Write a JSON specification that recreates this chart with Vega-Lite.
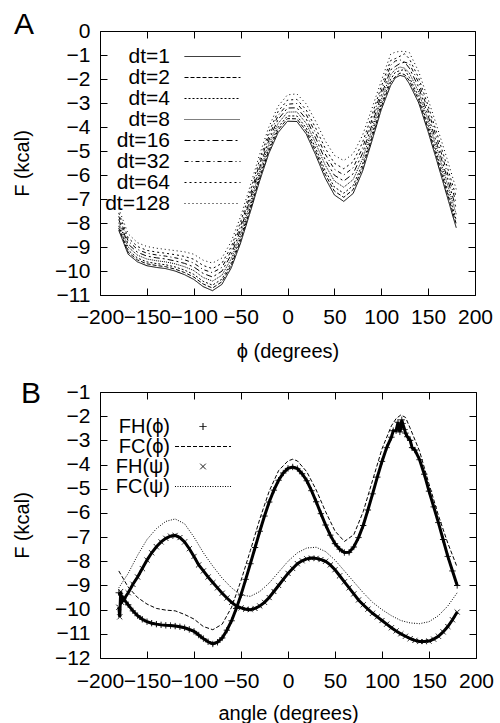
{
"$schema": "https://vega.github.io/schema/vega-lite/v6.json",
"padding": {"left": 11, "top": 9, "right": 10, "bottom": 0},
"spacing": 16,
"resolve": {"scale": {"strokeDash": "independent", "shape": "independent"}, "legend": {"strokeDash": "independent", "shape": "independent"}},
"config": {
  "font": "Liberation Sans",
  "view": {"stroke": "black", "strokeWidth": 1},
  "axis": {"grid": false, "domain": false, "tickColor": "black", "tickSize": -7, "labelFontSize": 21, "titleFontSize": 20, "titleFontWeight": "normal", "labelColor": "black", "titleColor": "black", "labelFlush": false, "labelOverlap": false, "labelPadding": 17, "labelFont": "Liberation Sans", "titleFont": "Liberation Sans"},
  "axisX": {"titlePadding": 14},
  "axisY": {"titlePadding": 22},
  "legend": {"labelFontSize": 21, "labelColor": "black", "labelFont": "Liberation Sans", "labelLimit": 0},
  "title": {"fontSize": 30, "fontWeight": "normal", "color": "black", "font": "Liberation Sans"}
},
"datasets": {
"A": [
{"x":-180,"s":"dt=1","F":-8.30},{"x":-180,"s":"dt=2","F":-8.21},{"x":-180,"s":"dt=4","F":-8.12},{"x":-180,"s":"dt=8","F":-7.99},{"x":-180,"s":"dt=16","F":-7.85},{"x":-180,"s":"dt=32","F":-7.72},{"x":-180,"s":"dt=64","F":-7.58},{"x":-180,"s":"dt=128","F":-7.40},
{"x":-170,"s":"dt=1","F":-9.30},{"x":-170,"s":"dt=2","F":-9.22},{"x":-170,"s":"dt=4","F":-9.13},{"x":-170,"s":"dt=8","F":-9.00},{"x":-170,"s":"dt=16","F":-8.88},{"x":-170,"s":"dt=32","F":-8.75},{"x":-170,"s":"dt=64","F":-8.62},{"x":-170,"s":"dt=128","F":-8.45},
{"x":-160,"s":"dt=1","F":-9.62},{"x":-160,"s":"dt=2","F":-9.54},{"x":-160,"s":"dt=4","F":-9.46},{"x":-160,"s":"dt=8","F":-9.34},{"x":-160,"s":"dt=16","F":-9.22},{"x":-160,"s":"dt=32","F":-9.10},{"x":-160,"s":"dt=64","F":-8.98},{"x":-160,"s":"dt=128","F":-8.82},
{"x":-150,"s":"dt=1","F":-9.78},{"x":-150,"s":"dt=2","F":-9.70},{"x":-150,"s":"dt=4","F":-9.62},{"x":-150,"s":"dt=8","F":-9.50},{"x":-150,"s":"dt=16","F":-9.38},{"x":-150,"s":"dt=32","F":-9.26},{"x":-150,"s":"dt=64","F":-9.14},{"x":-150,"s":"dt=128","F":-8.98},
{"x":-140,"s":"dt=1","F":-9.85},{"x":-140,"s":"dt=2","F":-9.77},{"x":-140,"s":"dt=4","F":-9.69},{"x":-140,"s":"dt=8","F":-9.57},{"x":-140,"s":"dt=16","F":-9.45},{"x":-140,"s":"dt=32","F":-9.33},{"x":-140,"s":"dt=64","F":-9.21},{"x":-140,"s":"dt=128","F":-9.05},
{"x":-130,"s":"dt=1","F":-9.90},{"x":-130,"s":"dt=2","F":-9.82},{"x":-130,"s":"dt=4","F":-9.74},{"x":-130,"s":"dt=8","F":-9.62},{"x":-130,"s":"dt=16","F":-9.50},{"x":-130,"s":"dt=32","F":-9.38},{"x":-130,"s":"dt=64","F":-9.26},{"x":-130,"s":"dt=128","F":-9.10},
{"x":-120,"s":"dt=1","F":-10.00},{"x":-120,"s":"dt=2","F":-9.92},{"x":-120,"s":"dt=4","F":-9.83},{"x":-120,"s":"dt=8","F":-9.70},{"x":-120,"s":"dt=16","F":-9.58},{"x":-120,"s":"dt=32","F":-9.45},{"x":-120,"s":"dt=64","F":-9.32},{"x":-120,"s":"dt=128","F":-9.15},
{"x":-110,"s":"dt=1","F":-10.15},{"x":-110,"s":"dt=2","F":-10.06},{"x":-110,"s":"dt=4","F":-9.96},{"x":-110,"s":"dt=8","F":-9.82},{"x":-110,"s":"dt=16","F":-9.68},{"x":-110,"s":"dt=32","F":-9.53},{"x":-110,"s":"dt=64","F":-9.39},{"x":-110,"s":"dt=128","F":-9.20},
{"x":-100,"s":"dt=1","F":-10.35},{"x":-100,"s":"dt=2","F":-10.25},{"x":-100,"s":"dt=4","F":-10.14},{"x":-100,"s":"dt=8","F":-9.98},{"x":-100,"s":"dt=16","F":-9.83},{"x":-100,"s":"dt=32","F":-9.67},{"x":-100,"s":"dt=64","F":-9.51},{"x":-100,"s":"dt=128","F":-9.30},
{"x":-90,"s":"dt=1","F":-10.65},{"x":-90,"s":"dt=2","F":-10.54},{"x":-90,"s":"dt=4","F":-10.43},{"x":-90,"s":"dt=8","F":-10.27},{"x":-90,"s":"dt=16","F":-10.10},{"x":-90,"s":"dt=32","F":-9.94},{"x":-90,"s":"dt=64","F":-9.77},{"x":-90,"s":"dt=128","F":-9.55},
{"x":-80,"s":"dt=1","F":-10.82},{"x":-80,"s":"dt=2","F":-10.71},{"x":-80,"s":"dt=4","F":-10.59},{"x":-80,"s":"dt=8","F":-10.42},{"x":-80,"s":"dt=16","F":-10.25},{"x":-80,"s":"dt=32","F":-10.07},{"x":-80,"s":"dt=64","F":-9.90},{"x":-80,"s":"dt=128","F":-9.67},
{"x":-70,"s":"dt=1","F":-10.56},{"x":-70,"s":"dt=2","F":-10.45},{"x":-70,"s":"dt=4","F":-10.34},{"x":-70,"s":"dt=8","F":-10.18},{"x":-70,"s":"dt=16","F":-10.01},{"x":-70,"s":"dt=32","F":-9.85},{"x":-70,"s":"dt=64","F":-9.68},{"x":-70,"s":"dt=128","F":-9.46},
{"x":-60,"s":"dt=1","F":-9.87},{"x":-60,"s":"dt=2","F":-9.76},{"x":-60,"s":"dt=4","F":-9.65},{"x":-60,"s":"dt=8","F":-9.49},{"x":-60,"s":"dt=16","F":-9.32},{"x":-60,"s":"dt=32","F":-9.16},{"x":-60,"s":"dt=64","F":-8.99},{"x":-60,"s":"dt=128","F":-8.77},
{"x":-50,"s":"dt=1","F":-8.83},{"x":-50,"s":"dt=2","F":-8.72},{"x":-50,"s":"dt=4","F":-8.61},{"x":-50,"s":"dt=8","F":-8.45},{"x":-50,"s":"dt=16","F":-8.28},{"x":-50,"s":"dt=32","F":-8.12},{"x":-50,"s":"dt=64","F":-7.95},{"x":-50,"s":"dt=128","F":-7.73},
{"x":-40,"s":"dt=1","F":-7.58},{"x":-40,"s":"dt=2","F":-7.47},{"x":-40,"s":"dt=4","F":-7.36},{"x":-40,"s":"dt=8","F":-7.20},{"x":-40,"s":"dt=16","F":-7.03},{"x":-40,"s":"dt=32","F":-6.87},{"x":-40,"s":"dt=64","F":-6.70},{"x":-40,"s":"dt=128","F":-6.48},
{"x":-30,"s":"dt=1","F":-6.28},{"x":-30,"s":"dt=2","F":-6.17},{"x":-30,"s":"dt=4","F":-6.06},{"x":-30,"s":"dt=8","F":-5.90},{"x":-30,"s":"dt=16","F":-5.73},{"x":-30,"s":"dt=32","F":-5.57},{"x":-30,"s":"dt=64","F":-5.40},{"x":-30,"s":"dt=128","F":-5.18},
{"x":-20,"s":"dt=1","F":-5.11},{"x":-20,"s":"dt=2","F":-5.00},{"x":-20,"s":"dt=4","F":-4.89},{"x":-20,"s":"dt=8","F":-4.73},{"x":-20,"s":"dt=16","F":-4.56},{"x":-20,"s":"dt=32","F":-4.40},{"x":-20,"s":"dt=64","F":-4.23},{"x":-20,"s":"dt=128","F":-4.01},
{"x":-10,"s":"dt=1","F":-4.23},{"x":-10,"s":"dt=2","F":-4.12},{"x":-10,"s":"dt=4","F":-4.01},{"x":-10,"s":"dt=8","F":-3.85},{"x":-10,"s":"dt=16","F":-3.68},{"x":-10,"s":"dt=32","F":-3.52},{"x":-10,"s":"dt=64","F":-3.35},{"x":-10,"s":"dt=128","F":-3.13},
{"x":0,"s":"dt=1","F":-3.76},{"x":0,"s":"dt=2","F":-3.65},{"x":0,"s":"dt=4","F":-3.54},{"x":0,"s":"dt=8","F":-3.38},{"x":0,"s":"dt=16","F":-3.21},{"x":0,"s":"dt=32","F":-3.05},{"x":0,"s":"dt=64","F":-2.88},{"x":0,"s":"dt=128","F":-2.66},
{"x":10,"s":"dt=1","F":-3.77},{"x":10,"s":"dt=2","F":-3.66},{"x":10,"s":"dt=4","F":-3.54},{"x":10,"s":"dt=8","F":-3.37},{"x":10,"s":"dt=16","F":-3.20},{"x":10,"s":"dt=32","F":-3.02},{"x":10,"s":"dt=64","F":-2.85},{"x":10,"s":"dt=128","F":-2.62},
{"x":20,"s":"dt=1","F":-4.29},{"x":20,"s":"dt=2","F":-4.17},{"x":20,"s":"dt=4","F":-4.04},{"x":20,"s":"dt=8","F":-3.85},{"x":20,"s":"dt=16","F":-3.67},{"x":20,"s":"dt=32","F":-3.48},{"x":20,"s":"dt=64","F":-3.29},{"x":20,"s":"dt=128","F":-3.04},
{"x":30,"s":"dt=1","F":-5.16},{"x":30,"s":"dt=2","F":-5.02},{"x":30,"s":"dt=4","F":-4.88},{"x":30,"s":"dt=8","F":-4.67},{"x":30,"s":"dt=16","F":-4.46},{"x":30,"s":"dt=32","F":-4.25},{"x":30,"s":"dt=64","F":-4.04},{"x":30,"s":"dt=128","F":-3.76},
{"x":40,"s":"dt=1","F":-6.11},{"x":40,"s":"dt=2","F":-5.96},{"x":40,"s":"dt=4","F":-5.80},{"x":40,"s":"dt=8","F":-5.57},{"x":40,"s":"dt=16","F":-5.34},{"x":40,"s":"dt=32","F":-5.11},{"x":40,"s":"dt=64","F":-4.87},{"x":40,"s":"dt=128","F":-4.56},
{"x":50,"s":"dt=1","F":-6.83},{"x":50,"s":"dt=2","F":-6.67},{"x":50,"s":"dt=4","F":-6.50},{"x":50,"s":"dt=8","F":-6.25},{"x":50,"s":"dt=16","F":-6.01},{"x":50,"s":"dt=32","F":-5.76},{"x":50,"s":"dt=64","F":-5.51},{"x":50,"s":"dt=128","F":-5.18},
{"x":60,"s":"dt=1","F":-7.10},{"x":60,"s":"dt=2","F":-6.93},{"x":60,"s":"dt=4","F":-6.76},{"x":60,"s":"dt=8","F":-6.51},{"x":60,"s":"dt=16","F":-6.25},{"x":60,"s":"dt=32","F":-6.00},{"x":60,"s":"dt=64","F":-5.74},{"x":60,"s":"dt=128","F":-5.40},
{"x":70,"s":"dt=1","F":-6.77},{"x":70,"s":"dt=2","F":-6.61},{"x":70,"s":"dt=4","F":-6.44},{"x":70,"s":"dt=8","F":-6.19},{"x":70,"s":"dt=16","F":-5.95},{"x":70,"s":"dt=32","F":-5.70},{"x":70,"s":"dt=64","F":-5.45},{"x":70,"s":"dt=128","F":-5.12},
{"x":80,"s":"dt=1","F":-5.85},{"x":80,"s":"dt=2","F":-5.70},{"x":80,"s":"dt=4","F":-5.55},{"x":80,"s":"dt=8","F":-5.33},{"x":80,"s":"dt=16","F":-5.10},{"x":80,"s":"dt=32","F":-4.88},{"x":80,"s":"dt=64","F":-4.65},{"x":80,"s":"dt=128","F":-4.35},
{"x":90,"s":"dt=1","F":-4.59},{"x":90,"s":"dt=2","F":-4.46},{"x":90,"s":"dt=4","F":-4.32},{"x":90,"s":"dt=8","F":-4.12},{"x":90,"s":"dt=16","F":-3.92},{"x":90,"s":"dt=32","F":-3.71},{"x":90,"s":"dt=64","F":-3.51},{"x":90,"s":"dt=128","F":-3.24},
{"x":100,"s":"dt=1","F":-3.28},{"x":100,"s":"dt=2","F":-3.16},{"x":100,"s":"dt=4","F":-3.04},{"x":100,"s":"dt=8","F":-2.86},{"x":100,"s":"dt=16","F":-2.68},{"x":100,"s":"dt=32","F":-2.50},{"x":100,"s":"dt=64","F":-2.32},{"x":100,"s":"dt=128","F":-2.08},
{"x":110,"s":"dt=1","F":-2.27},{"x":110,"s":"dt=2","F":-2.14},{"x":110,"s":"dt=4","F":-2.01},{"x":110,"s":"dt=8","F":-1.82},{"x":110,"s":"dt=16","F":-1.62},{"x":110,"s":"dt=32","F":-1.43},{"x":110,"s":"dt=64","F":-1.23},{"x":110,"s":"dt=128","F":-0.97},
{"x":115,"s":"dt=1","F":-1.95},{"x":115,"s":"dt=2","F":-1.90},{"x":115,"s":"dt=4","F":-1.72},{"x":115,"s":"dt=8","F":-1.60},{"x":115,"s":"dt=16","F":-1.48},{"x":115,"s":"dt=32","F":-1.25},{"x":115,"s":"dt=64","F":-1.15},{"x":115,"s":"dt=128","F":-0.88},
{"x":120,"s":"dt=1","F":-1.85},{"x":120,"s":"dt=2","F":-1.75},{"x":120,"s":"dt=4","F":-1.65},{"x":120,"s":"dt=8","F":-1.50},{"x":120,"s":"dt=16","F":-1.35},{"x":120,"s":"dt=32","F":-1.20},{"x":120,"s":"dt=64","F":-1.05},{"x":120,"s":"dt=128","F":-0.85},
{"x":125,"s":"dt=1","F":-1.90},{"x":125,"s":"dt=2","F":-1.82},{"x":125,"s":"dt=4","F":-1.60},{"x":125,"s":"dt=8","F":-1.55},{"x":125,"s":"dt=16","F":-1.30},{"x":125,"s":"dt=32","F":-1.30},{"x":125,"s":"dt=64","F":-0.95},{"x":125,"s":"dt=128","F":-0.85},
{"x":130,"s":"dt=1","F":-2.20},{"x":130,"s":"dt=2","F":-2.07},{"x":130,"s":"dt=4","F":-1.94},{"x":130,"s":"dt=8","F":-1.75},{"x":130,"s":"dt=16","F":-1.55},{"x":130,"s":"dt=32","F":-1.36},{"x":130,"s":"dt=64","F":-1.16},{"x":130,"s":"dt=128","F":-0.90},
{"x":140,"s":"dt=1","F":-3.00},{"x":140,"s":"dt=2","F":-2.87},{"x":140,"s":"dt=4","F":-2.74},{"x":140,"s":"dt=8","F":-2.55},{"x":140,"s":"dt=16","F":-2.35},{"x":140,"s":"dt=32","F":-2.16},{"x":140,"s":"dt=64","F":-1.96},{"x":140,"s":"dt=128","F":-1.70},
{"x":150,"s":"dt=1","F":-4.20},{"x":150,"s":"dt=2","F":-4.07},{"x":150,"s":"dt=4","F":-3.93},{"x":150,"s":"dt=8","F":-3.73},{"x":150,"s":"dt=16","F":-3.53},{"x":150,"s":"dt=32","F":-3.32},{"x":150,"s":"dt=64","F":-3.12},{"x":150,"s":"dt=128","F":-2.85},
{"x":160,"s":"dt=1","F":-5.50},{"x":160,"s":"dt=2","F":-5.36},{"x":160,"s":"dt=4","F":-5.21},{"x":160,"s":"dt=8","F":-4.99},{"x":160,"s":"dt=16","F":-4.78},{"x":160,"s":"dt=32","F":-4.56},{"x":160,"s":"dt=64","F":-4.34},{"x":160,"s":"dt=128","F":-4.05},
{"x":170,"s":"dt=1","F":-6.85},{"x":170,"s":"dt=2","F":-6.70},{"x":170,"s":"dt=4","F":-6.54},{"x":170,"s":"dt=8","F":-6.31},{"x":170,"s":"dt=16","F":-6.08},{"x":170,"s":"dt=32","F":-5.85},{"x":170,"s":"dt=64","F":-5.61},{"x":170,"s":"dt=128","F":-5.30},
{"x":180,"s":"dt=1","F":-8.20},{"x":180,"s":"dt=2","F":-8.04},{"x":180,"s":"dt=4","F":-7.88},{"x":180,"s":"dt=8","F":-7.64},{"x":180,"s":"dt=16","F":-7.40},{"x":180,"s":"dt=32","F":-7.16},{"x":180,"s":"dt=64","F":-6.92},{"x":180,"s":"dt=128","F":-6.60}
],
"B": [
{"x":-180,"s":"FH(ϕ)","F":-9.3},{"x":-175,"s":"FH(ϕ)","F":-9.55},{"x":-170,"s":"FH(ϕ)","F":-9.8},{"x":-165,"s":"FH(ϕ)","F":-10.05},{"x":-160,"s":"FH(ϕ)","F":-10.25},{"x":-155,"s":"FH(ϕ)","F":-10.4},{"x":-150,"s":"FH(ϕ)","F":-10.5},{"x":-145,"s":"FH(ϕ)","F":-10.56},{"x":-140,"s":"FH(ϕ)","F":-10.6},{"x":-135,"s":"FH(ϕ)","F":-10.63},{"x":-130,"s":"FH(ϕ)","F":-10.65},{"x":-125,"s":"FH(ϕ)","F":-10.66},{"x":-120,"s":"FH(ϕ)","F":-10.68},{"x":-115,"s":"FH(ϕ)","F":-10.71},{"x":-110,"s":"FH(ϕ)","F":-10.75},{"x":-105,"s":"FH(ϕ)","F":-10.82},{"x":-100,"s":"FH(ϕ)","F":-10.9},{"x":-95,"s":"FH(ϕ)","F":-11.05},{"x":-90,"s":"FH(ϕ)","F":-11.2},{"x":-85,"s":"FH(ϕ)","F":-11.33},{"x":-80,"s":"FH(ϕ)","F":-11.42},{"x":-75,"s":"FH(ϕ)","F":-11.35},{"x":-70,"s":"FH(ϕ)","F":-11.17},{"x":-65,"s":"FH(ϕ)","F":-10.85},{"x":-60,"s":"FH(ϕ)","F":-10.46},{"x":-55,"s":"FH(ϕ)","F":-9.95},{"x":-50,"s":"FH(ϕ)","F":-9.39},{"x":-45,"s":"FH(ϕ)","F":-8.75},{"x":-40,"s":"FH(ϕ)","F":-8.1},{"x":-35,"s":"FH(ϕ)","F":-7.43},{"x":-30,"s":"FH(ϕ)","F":-6.76},{"x":-25,"s":"FH(ϕ)","F":-6.13},{"x":-20,"s":"FH(ϕ)","F":-5.55},{"x":-15,"s":"FH(ϕ)","F":-5.06},{"x":-10,"s":"FH(ϕ)","F":-4.65},{"x":-5,"s":"FH(ϕ)","F":-4.35},{"x":0,"s":"FH(ϕ)","F":-4.16},{"x":5,"s":"FH(ϕ)","F":-4.1},{"x":10,"s":"FH(ϕ)","F":-4.17},{"x":15,"s":"FH(ϕ)","F":-4.38},{"x":20,"s":"FH(ϕ)","F":-4.67},{"x":25,"s":"FH(ϕ)","F":-5.08},{"x":30,"s":"FH(ϕ)","F":-5.54},{"x":35,"s":"FH(ϕ)","F":-6.03},{"x":40,"s":"FH(ϕ)","F":-6.5},{"x":45,"s":"FH(ϕ)","F":-6.92},{"x":50,"s":"FH(ϕ)","F":-7.27},{"x":55,"s":"FH(ϕ)","F":-7.5},{"x":60,"s":"FH(ϕ)","F":-7.64},{"x":65,"s":"FH(ϕ)","F":-7.63},{"x":70,"s":"FH(ϕ)","F":-7.41},{"x":75,"s":"FH(ϕ)","F":-7.02},{"x":80,"s":"FH(ϕ)","F":-6.52},{"x":85,"s":"FH(ϕ)","F":-5.88},{"x":90,"s":"FH(ϕ)","F":-5.21},{"x":95,"s":"FH(ϕ)","F":-4.52},{"x":100,"s":"FH(ϕ)","F":-3.87},{"x":105,"s":"FH(ϕ)","F":-3.3},{"x":110,"s":"FH(ϕ)","F":-2.87},{"x":112,"s":"FH(ϕ)","F":-2.6},{"x":115,"s":"FH(ϕ)","F":-2.6},{"x":117,"s":"FH(ϕ)","F":-2.25},{"x":119,"s":"FH(ϕ)","F":-2.65},{"x":120,"s":"FH(ϕ)","F":-2.5},{"x":121,"s":"FH(ϕ)","F":-2.15},{"x":122,"s":"FH(ϕ)","F":-2.3},{"x":124,"s":"FH(ϕ)","F":-2.55},{"x":125,"s":"FH(ϕ)","F":-2.7},{"x":127,"s":"FH(ϕ)","F":-2.85},{"x":130,"s":"FH(ϕ)","F":-3.0},{"x":132,"s":"FH(ϕ)","F":-3.3},{"x":135,"s":"FH(ϕ)","F":-3.4},{"x":140,"s":"FH(ϕ)","F":-3.8},{"x":145,"s":"FH(ϕ)","F":-4.4},{"x":150,"s":"FH(ϕ)","F":-5.1},{"x":155,"s":"FH(ϕ)","F":-5.75},{"x":160,"s":"FH(ϕ)","F":-6.4},{"x":165,"s":"FH(ϕ)","F":-7.1},{"x":170,"s":"FH(ϕ)","F":-7.8},{"x":175,"s":"FH(ϕ)","F":-8.4},{"x":180,"s":"FH(ϕ)","F":-9.0},
{"x":-180,"s":"FH(ψ)","F":-9.9},{"x":-179,"s":"FH(ψ)","F":-10.3},{"x":-178,"s":"FH(ψ)","F":-9.25},{"x":-177,"s":"FH(ψ)","F":-9.7},{"x":-175,"s":"FH(ψ)","F":-9.6},{"x":-170,"s":"FH(ψ)","F":-9.3},{"x":-165,"s":"FH(ψ)","F":-8.95},{"x":-160,"s":"FH(ψ)","F":-8.65},{"x":-155,"s":"FH(ψ)","F":-8.3},{"x":-150,"s":"FH(ψ)","F":-7.95},{"x":-145,"s":"FH(ψ)","F":-7.65},{"x":-140,"s":"FH(ψ)","F":-7.4},{"x":-135,"s":"FH(ψ)","F":-7.2},{"x":-130,"s":"FH(ψ)","F":-7.05},{"x":-125,"s":"FH(ψ)","F":-6.96},{"x":-120,"s":"FH(ψ)","F":-6.93},{"x":-115,"s":"FH(ψ)","F":-7.02},{"x":-110,"s":"FH(ψ)","F":-7.2},{"x":-105,"s":"FH(ψ)","F":-7.48},{"x":-100,"s":"FH(ψ)","F":-7.8},{"x":-95,"s":"FH(ψ)","F":-8.15},{"x":-90,"s":"FH(ψ)","F":-8.4},{"x":-85,"s":"FH(ψ)","F":-8.65},{"x":-80,"s":"FH(ψ)","F":-8.88},{"x":-75,"s":"FH(ψ)","F":-9.1},{"x":-70,"s":"FH(ψ)","F":-9.32},{"x":-65,"s":"FH(ψ)","F":-9.52},{"x":-60,"s":"FH(ψ)","F":-9.7},{"x":-55,"s":"FH(ψ)","F":-9.85},{"x":-50,"s":"FH(ψ)","F":-9.93},{"x":-45,"s":"FH(ψ)","F":-9.98},{"x":-40,"s":"FH(ψ)","F":-10.0},{"x":-35,"s":"FH(ψ)","F":-9.95},{"x":-30,"s":"FH(ψ)","F":-9.85},{"x":-25,"s":"FH(ψ)","F":-9.7},{"x":-20,"s":"FH(ψ)","F":-9.5},{"x":-15,"s":"FH(ψ)","F":-9.25},{"x":-10,"s":"FH(ψ)","F":-9.0},{"x":-5,"s":"FH(ψ)","F":-8.75},{"x":0,"s":"FH(ψ)","F":-8.5},{"x":5,"s":"FH(ψ)","F":-8.3},{"x":10,"s":"FH(ψ)","F":-8.1},{"x":15,"s":"FH(ψ)","F":-7.98},{"x":20,"s":"FH(ψ)","F":-7.9},{"x":25,"s":"FH(ψ)","F":-7.87},{"x":30,"s":"FH(ψ)","F":-7.88},{"x":35,"s":"FH(ψ)","F":-7.93},{"x":40,"s":"FH(ψ)","F":-8.0},{"x":45,"s":"FH(ψ)","F":-8.15},{"x":50,"s":"FH(ψ)","F":-8.35},{"x":55,"s":"FH(ψ)","F":-8.6},{"x":60,"s":"FH(ψ)","F":-8.85},{"x":65,"s":"FH(ψ)","F":-9.1},{"x":70,"s":"FH(ψ)","F":-9.35},{"x":75,"s":"FH(ψ)","F":-9.6},{"x":80,"s":"FH(ψ)","F":-9.8},{"x":85,"s":"FH(ψ)","F":-9.98},{"x":90,"s":"FH(ψ)","F":-10.15},{"x":95,"s":"FH(ψ)","F":-10.3},{"x":100,"s":"FH(ψ)","F":-10.45},{"x":105,"s":"FH(ψ)","F":-10.6},{"x":110,"s":"FH(ψ)","F":-10.75},{"x":115,"s":"FH(ψ)","F":-10.88},{"x":120,"s":"FH(ψ)","F":-11.0},{"x":125,"s":"FH(ψ)","F":-11.1},{"x":130,"s":"FH(ψ)","F":-11.2},{"x":135,"s":"FH(ψ)","F":-11.27},{"x":140,"s":"FH(ψ)","F":-11.32},{"x":145,"s":"FH(ψ)","F":-11.32},{"x":150,"s":"FH(ψ)","F":-11.3},{"x":155,"s":"FH(ψ)","F":-11.22},{"x":160,"s":"FH(ψ)","F":-11.1},{"x":165,"s":"FH(ψ)","F":-10.92},{"x":170,"s":"FH(ψ)","F":-10.7},{"x":175,"s":"FH(ψ)","F":-10.42},{"x":180,"s":"FH(ψ)","F":-10.1},
{"x":-180,"s":"FC(ϕ)","F":-8.4},{"x":-170,"s":"FC(ϕ)","F":-9.07},{"x":-160,"s":"FC(ϕ)","F":-9.5},{"x":-150,"s":"FC(ϕ)","F":-9.77},{"x":-140,"s":"FC(ϕ)","F":-9.95},{"x":-130,"s":"FC(ϕ)","F":-10.02},{"x":-120,"s":"FC(ϕ)","F":-10.05},{"x":-110,"s":"FC(ϕ)","F":-10.2},{"x":-100,"s":"FC(ϕ)","F":-10.39},{"x":-90,"s":"FC(ϕ)","F":-10.7},{"x":-80,"s":"FC(ϕ)","F":-10.83},{"x":-70,"s":"FC(ϕ)","F":-10.6},{"x":-60,"s":"FC(ϕ)","F":-9.9},{"x":-50,"s":"FC(ϕ)","F":-8.8},{"x":-40,"s":"FC(ϕ)","F":-7.55},{"x":-30,"s":"FC(ϕ)","F":-6.25},{"x":-20,"s":"FC(ϕ)","F":-5.1},{"x":-10,"s":"FC(ϕ)","F":-4.25},{"x":0,"s":"FC(ϕ)","F":-3.85},{"x":5,"s":"FC(ϕ)","F":-3.78},{"x":10,"s":"FC(ϕ)","F":-3.85},{"x":20,"s":"FC(ϕ)","F":-4.3},{"x":30,"s":"FC(ϕ)","F":-5.05},{"x":40,"s":"FC(ϕ)","F":-5.95},{"x":50,"s":"FC(ϕ)","F":-6.75},{"x":60,"s":"FC(ϕ)","F":-7.18},{"x":70,"s":"FC(ϕ)","F":-6.9},{"x":80,"s":"FC(ϕ)","F":-5.95},{"x":90,"s":"FC(ϕ)","F":-4.65},{"x":100,"s":"FC(ϕ)","F":-3.35},{"x":110,"s":"FC(ϕ)","F":-2.4},{"x":115,"s":"FC(ϕ)","F":-2.1},{"x":120,"s":"FC(ϕ)","F":-1.95},{"x":125,"s":"FC(ϕ)","F":-2.05},{"x":130,"s":"FC(ϕ)","F":-2.5},{"x":140,"s":"FC(ϕ)","F":-3.45},{"x":150,"s":"FC(ϕ)","F":-4.8},{"x":160,"s":"FC(ϕ)","F":-6.1},{"x":170,"s":"FC(ϕ)","F":-7.25},{"x":180,"s":"FC(ϕ)","F":-8.25},
{"x":-180,"s":"FC(ψ)","F":-9.1},{"x":-170,"s":"FC(ψ)","F":-8.5},{"x":-160,"s":"FC(ψ)","F":-7.75},{"x":-150,"s":"FC(ψ)","F":-7.1},{"x":-140,"s":"FC(ψ)","F":-6.65},{"x":-130,"s":"FC(ψ)","F":-6.35},{"x":-120,"s":"FC(ψ)","F":-6.25},{"x":-110,"s":"FC(ψ)","F":-6.45},{"x":-100,"s":"FC(ψ)","F":-7.0},{"x":-90,"s":"FC(ψ)","F":-7.65},{"x":-80,"s":"FC(ψ)","F":-8.2},{"x":-70,"s":"FC(ψ)","F":-8.7},{"x":-60,"s":"FC(ψ)","F":-9.1},{"x":-50,"s":"FC(ψ)","F":-9.4},{"x":-40,"s":"FC(ψ)","F":-9.45},{"x":-30,"s":"FC(ψ)","F":-9.25},{"x":-20,"s":"FC(ψ)","F":-8.9},{"x":-10,"s":"FC(ψ)","F":-8.45},{"x":0,"s":"FC(ψ)","F":-8.0},{"x":10,"s":"FC(ψ)","F":-7.65},{"x":20,"s":"FC(ψ)","F":-7.45},{"x":30,"s":"FC(ψ)","F":-7.42},{"x":40,"s":"FC(ψ)","F":-7.6},{"x":50,"s":"FC(ψ)","F":-7.95},{"x":60,"s":"FC(ψ)","F":-8.4},{"x":70,"s":"FC(ψ)","F":-8.85},{"x":80,"s":"FC(ψ)","F":-9.3},{"x":90,"s":"FC(ψ)","F":-9.7},{"x":100,"s":"FC(ψ)","F":-10.0},{"x":110,"s":"FC(ψ)","F":-10.25},{"x":120,"s":"FC(ψ)","F":-10.45},{"x":130,"s":"FC(ψ)","F":-10.55},{"x":140,"s":"FC(ψ)","F":-10.58},{"x":150,"s":"FC(ψ)","F":-10.5},{"x":160,"s":"FC(ψ)","F":-10.25},{"x":170,"s":"FC(ψ)","F":-9.85},{"x":180,"s":"FC(ψ)","F":-9.3}
]
},
"vconcat": [
{
  "width": 375, "height": 264,
  "title": {"text": "A", "anchor": "start", "frame": "group", "offset": -20, "dx": -86},
  "data": {"name": "A"},
  "layer": [
    {
      "mark": {"type": "line", "color": "black", "strokeWidth": 1, "clip": true},
      "encoding": {
        "x": {"field": "x", "type": "quantitative", "scale": {"domain": [-200, 200], "nice": false}, "axis": {"title": "ϕ (degrees)", "orient": "bottom", "labelPadding": 18, "values": [-200,-150,-100,-50,0,50,100,150,200]}},
        "y": {"field": "F", "type": "quantitative", "scale": {"domain": [-11, 0], "nice": false, "zero": false}, "axis": {"title": "F (kcal)", "orient": "left", "values": [-11,-10,-9,-8,-7,-6,-5,-4,-3,-2,-1,0]}},
        "strokeDash": {"field": "s", "type": "nominal",
          "scale": {"domain": ["dt=1","dt=2","dt=4","dt=8","dt=16","dt=32","dt=64","dt=128"], "range": [[1,0],[4,2],[2,2],[1,1],[6,3,2,3],[4,3,1,3],[2,3],[1,3]]},
          "legend": {"title": null, "orient": "none", "legendX": 0, "legendY": 15, "padding": 0, "rowPadding": -1, "symbolType": "M-8,0L8,0", "symbolSize": 49, "symbolOffset": 102, "symbolStrokeWidth": 1, "symbolStrokeColor": "black", "symbolFillColor": "transparent", "labelAlign": "right", "labelOffset": -53}}
      }
    },
    {
      "mark": {"type": "point", "opacity": 0},
      "encoding": {
        "x": {"field": "x", "type": "quantitative", "axis": {"orient": "top", "labels": false, "labelPadding": 0, "title": null, "values": [-200,-150,-100,-50,0,50,100,150,200]}},
        "y": {"field": "F", "type": "quantitative", "axis": {"orient": "right", "labels": false, "labelPadding": 0, "title": null, "values": [-11,-10,-9,-8,-7,-6,-5,-4,-3,-2,-1,0]}}
      }
    }
  ],
  "resolve": {"axis": {"x": "independent", "y": "independent"}}
},
{
  "width": 376, "height": 266,
  "title": {"text": "B", "anchor": "start", "frame": "group", "offset": -28, "dx": -79},
  "data": {"name": "B"},
  "layer": [
    {
      "transform": [{"filter": "indexof(datum.s, 'FH') == 0"}],
      "mark": {"type": "line", "color": "black", "strokeWidth": 3, "clip": true},
      "encoding": {
        "x": {"field": "x", "type": "quantitative", "scale": {"domain": [-200, 200], "nice": false}, "axis": {"title": "angle (degrees)", "orient": "bottom", "labelPadding": 19, "titlePadding": 12, "values": [-200,-150,-100,-50,0,50,100,150,200]}},
        "y": {"field": "F", "type": "quantitative", "scale": {"domain": [-12, -1], "nice": false, "zero": false}, "axis": {"title": "F (kcal)", "orient": "left", "values": [-12,-11,-10,-9,-8,-7,-6,-5,-4,-3,-2,-1]}},
        "detail": {"field": "s"}
      }
    },
    {
      "transform": [{"filter": "indexof(datum.s, 'FH') == 0"}],
      "mark": {"type": "point", "filled": false, "color": "black", "strokeWidth": 1, "size": 40, "opacity": 1},
      "encoding": {
        "x": {"field": "x", "type": "quantitative", "axis": null},
        "y": {"field": "F", "type": "quantitative", "axis": null},
        "shape": {"field": "s", "type": "nominal",
          "scale": {"domain": ["FH(ϕ)","FC(ϕ)","FH(ψ)","FC(ψ)"], "range": ["M-1,0L1,0M0,-1L0,1", "M-8,0L8,0", "M-0.8,-0.8L0.8,0.8M0.8,-0.8L-0.8,0.8", "M-8,0L8,0"]},
          "legend": {"title": null, "orient": "none", "legendX": 0, "legendY": 24.5, "padding": 0, "rowPadding": 0, "symbolSize": 49, "symbolOffset": 93, "symbolStrokeWidth": 1, "symbolStrokeColor": "black", "symbolFillColor": "transparent", "labelAlign": "right", "labelOffset": -43, "labelFontSize": 20}},
        "strokeDash": {"field": "s", "type": "nominal",
          "scale": {"domain": ["FH(ϕ)","FC(ϕ)","FH(ψ)","FC(ψ)"], "range": [[1,0],[4,2],[1,0],[1,1.5]]},
          "legend": {"title": null, "orient": "none", "legendX": 0, "legendY": 24.5, "padding": 0, "rowPadding": 0, "symbolSize": 49, "symbolOffset": 93, "symbolStrokeWidth": 1, "symbolStrokeColor": "black", "symbolFillColor": "transparent", "labelAlign": "right", "labelOffset": -43, "labelFontSize": 20}}
      }
    },
    {
      "transform": [{"filter": "indexof(datum.s, 'FC') == 0"}],
      "mark": {"type": "line", "color": "black", "strokeWidth": 1, "clip": true},
      "encoding": {
        "x": {"field": "x", "type": "quantitative", "axis": null},
        "y": {"field": "F", "type": "quantitative", "axis": null},
        "strokeDash": {"field": "s", "type": "nominal"}
      }
    },
    {
      "mark": {"type": "point", "opacity": 0},
      "encoding": {
        "x": {"field": "x", "type": "quantitative", "axis": {"orient": "top", "labels": false, "labelPadding": 0, "title": null, "values": [-200,-150,-100,-50,0,50,100,150,200]}},
        "y": {"field": "F", "type": "quantitative", "axis": {"orient": "right", "labels": false, "labelPadding": 0, "title": null, "values": [-12,-11,-10,-9,-8,-7,-6,-5,-4,-3,-2,-1]}}
      }
    }
  ],
  "resolve": {"axis": {"x": "independent", "y": "independent"}}
}
]
}
